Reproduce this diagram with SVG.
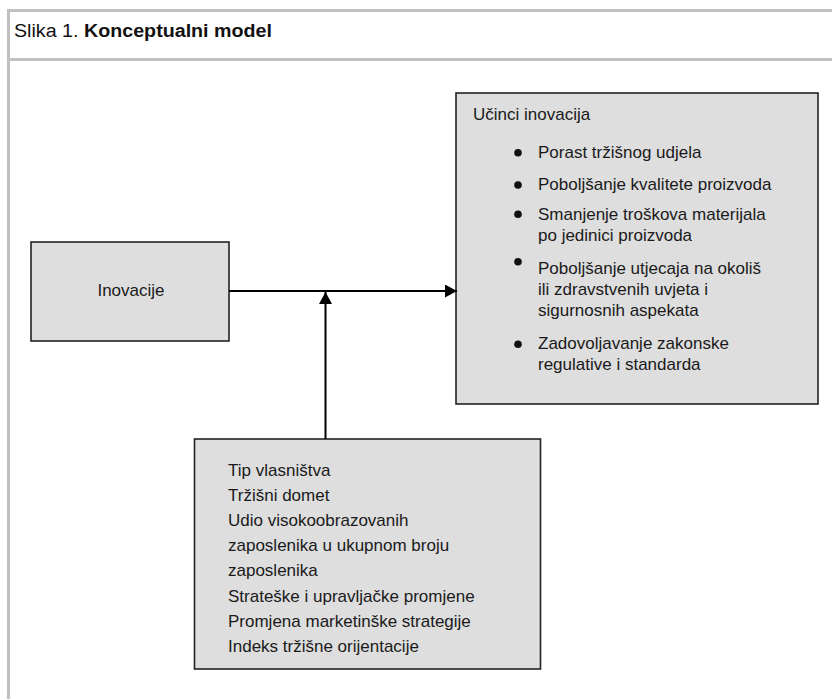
<svg xmlns="http://www.w3.org/2000/svg" width="832" height="699" viewBox="0 0 832 699">
<defs>
<style>
.frame{stroke:#c0c0c0;stroke-width:3;fill:none}
.box{fill:#dedede;stroke:#222;stroke-width:1.6}
.t{font-family:"Liberation Sans",Arial,sans-serif;font-size:17px;fill:#1a1a1a}
.h{font-family:"Liberation Sans",Arial,sans-serif;font-size:18px;fill:#111}
.conn{stroke:#000;stroke-width:2;fill:none}
</style>
<marker id="ah" viewBox="0 0 12 13" refX="12" refY="6.5" markerWidth="12" markerHeight="13" markerUnits="userSpaceOnUse" orient="auto">
<path d="M0,0 L12,6.5 L0,13 Z" fill="#000"/>
</marker>
</defs>
<rect width="832" height="699" fill="#fff"/>
<g id="frame">
<line class="frame" x1="8.5" y1="9" x2="8.5" y2="699"/>
<line class="frame" x1="7" y1="10.5" x2="832" y2="10.5"/>
<line class="frame" x1="7" y1="59.5" x2="832" y2="59.5"/>
<text class="h" x="14" y="37" textLength="258" lengthAdjust="spacingAndGlyphs">Slika 1. <tspan font-weight="bold">Konceptualni model</tspan></text>
</g>
<g id="inovacije">
<rect class="box" x="31" y="242" width="198" height="99"/>
<text class="t" x="131" y="296" text-anchor="middle">Inovacije</text>
</g>
<g id="ucinci">
<rect class="box" x="456" y="93" width="362" height="311"/>
<text class="t" x="473" y="120">Učinci inovacija</text>
<g fill="#111">
<circle cx="518" cy="152.7" r="3.8"/>
<circle cx="518" cy="185" r="3.8"/>
<circle cx="518" cy="214.3" r="3.8"/>
<circle cx="518" cy="261.7" r="3.8"/>
<circle cx="518" cy="344.3" r="3.8"/>
</g>
<text class="t" x="538" y="158">Porast tržišnog udjela</text>
<text class="t" x="538" y="190">Poboljšanje kvalitete proizvoda</text>
<text class="t" x="538" y="219.5">Smanjenje troškova materijala</text>
<text class="t" x="538" y="241">po jedinici proizvoda</text>
<text class="t" x="538" y="274">Poboljšanje utjecaja na okoliš</text>
<text class="t" x="538" y="295">ili zdravstvenih uvjeta i</text>
<text class="t" x="538" y="316">sigurnosnih aspekata</text>
<text class="t" x="538" y="349">Zadovoljavanje zakonske</text>
<text class="t" x="538" y="370">regulative i standarda</text>
</g>
<g id="faktori">
<rect class="box" x="194.5" y="439" width="346" height="230"/>
<text class="t" x="228" y="476">Tip vlasništva</text>
<text class="t" x="228" y="501">Tržišni domet</text>
<text class="t" x="228" y="526">Udio visokoobrazovanih</text>
<text class="t" x="228" y="551">zaposlenika u ukupnom broju</text>
<text class="t" x="228" y="576">zaposlenika</text>
<text class="t" x="228" y="601.5">Strateške i upravljačke promjene</text>
<text class="t" x="228" y="626.5">Promjena marketinške strategije</text>
<text class="t" x="228" y="651.5">Indeks tržišne orijentacije</text>
</g>
<g id="connectors">
<line class="conn" x1="229" y1="291" x2="457" y2="291" marker-end="url(#ah)"/>
<line class="conn" x1="325.5" y1="439" x2="325.5" y2="292" marker-end="url(#ah)"/>
</g>
</svg>
